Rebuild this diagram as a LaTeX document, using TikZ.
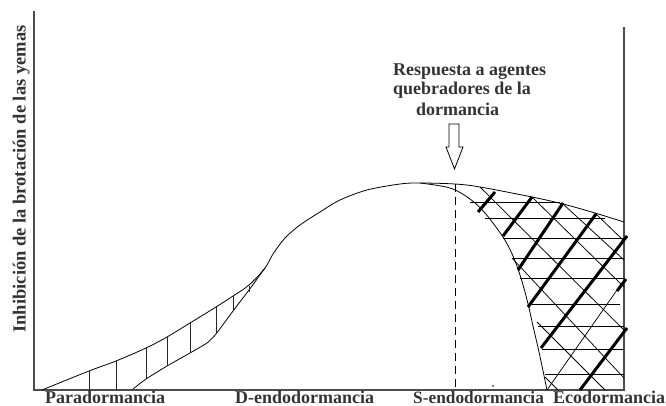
\documentclass[tikz,border=0pt]{standalone}
\usepackage{fontspec}
\setmainfont{Liberation Serif}
\begin{document}
\begin{tikzpicture}[x=1pt,y=-1pt,
  curveline/.style={line width=0.8pt, line join=round},
  hatchthin/.style={line width=0.75pt},
  hatchvert/.style={line width=0.9pt, draw=black!85},
  hatchthick/.style={line width=3pt},
  axisline/.style={line width=1.1pt, draw=black!70},
  dashline/.style={line width=0.8pt, dash pattern=on 8pt off 5pt},
  lbl/.style={font=\bfseries\fontsize{18}{20}\selectfont, text=black!80, inner sep=0pt}]
\useasboundingbox (0,0) rectangle (666,405);

% axes
\coordinate (ytop) at (34,11);
\coordinate (orig) at (34,390);
\coordinate (xend) at (624,390);
\coordinate (rtop) at (624,27);
\draw[axisline] (ytop) -- (orig) -- (xend) -- (rtop);

% main curve
\draw[curveline] plot[smooth, tension=0.55] coordinates {
 (42,390) (89,371) (116,361) (146,348) (167,337) (190,323) (216,307)
 (233,296) (249,285) (265,268) (273,254) (285,238) (300,225) (320,212)
 (340,200) (367,190) (400,184) (420,183) (455,184) (480,187) (532,197)
 (563,204) (595,213) (624,222)};

% lower left curve
\draw[curveline] plot[smooth, tension=0.3] coordinates {
 (133,389) (146,379) (167,366) (190,353) (207,343) (216,334) (233,311)
 (249,290) (265,268)};

% vertical hatches (left)
\foreach \x/\a/\b in {89/371/390, 116/361/390, 146/348/379, 167/337/366,
                      190/323/353, 216/307/334, 233/296/311, 249/286/292}
  \draw[hatchvert] (\x,\a) -- (\x,\b);

% inner right curve
\draw[curveline] plot[smooth, tension=0.55] coordinates {
 (420,183) (450,188) (470,199) (485,213) (503,237) (513,256) (520,275)
 (525,292) (529,308) (533,326) (539,352) (547,390)};

% dashed line
\draw[dashline] (455,184) -- (455,390);

% horizontal hatches (right)
\foreach \y/\a/\b in {202/470/560, 218/485/605, 238/503/624, 258/513/624,
                      278/520/624, 304/528/620, 326/538/624, 349/542/624,
                      374/545/624}
  \draw[hatchthin] (\a,\y) -- (\b,\y);

% thin diagonal hatches
\draw[hatchthin] (480,187) -- (624,330);
\draw[hatchthin] (532,197) -- (624,287);
\draw[hatchthin] (563,204) -- (624,260);
\draw[hatchthin] (595,213) -- (624,241);
\draw[hatchthin] (512,258) -- (624,378);
\draw[hatchthin] (537,322) -- (605,390);
\draw[hatchthin] (545,377) -- (558,390);
\draw[hatchthin] (547,390) -- (617,290);

% thick diagonal hatches
\draw[hatchthick] (478,212) -- (495,192);
\draw[hatchthick] (503,236) -- (532,197);
\draw[hatchthick] (518,270) -- (563,203);
\draw[hatchthick] (528,307) -- (596,214);
\draw[hatchthick] (541,348) -- (627,236);
\draw[hatchthick] (580,390) -- (627,328);
\draw[hatchthick] (617,291) -- (626,279);

% small dot
\fill (493,386) circle (0.8);

% hollow arrow
\draw[line width=0.8pt, line join=miter]
  (449,124) -- (459,124) -- (459,147) -- (463,147) -- (454.5,169)
  -- (446,147) -- (449,147) -- cycle;

% texts
\node[lbl, anchor=base west] (t1) at (393,75) {Respuesta a agentes};
\node[lbl, anchor=base west] (t2) at (393,94) {quebradores de la};
\node[lbl, anchor=base west] (t3) at (416,115) {dormancia};

\node[lbl, font=\bfseries\fontsize{18.5}{20}\selectfont, anchor=base, rotate=90] (ylab) at (25.5,179) {Inhibición de la brotación de las yemas};

\node[lbl, anchor=base west] (l1) at (45,403.5) {Paradormancia};
\node[lbl, anchor=base west] (l2) at (235,403.5) {D-endodormancia};
\node[lbl, font=\bfseries\fontsize{17.3}{20}\selectfont, anchor=base west] (l3) at (413,403.5) {S-endodormancia};
\node[lbl, anchor=base west] (l4) at (553,403.5) {Ecodormancia};
\end{tikzpicture}
\end{document}
